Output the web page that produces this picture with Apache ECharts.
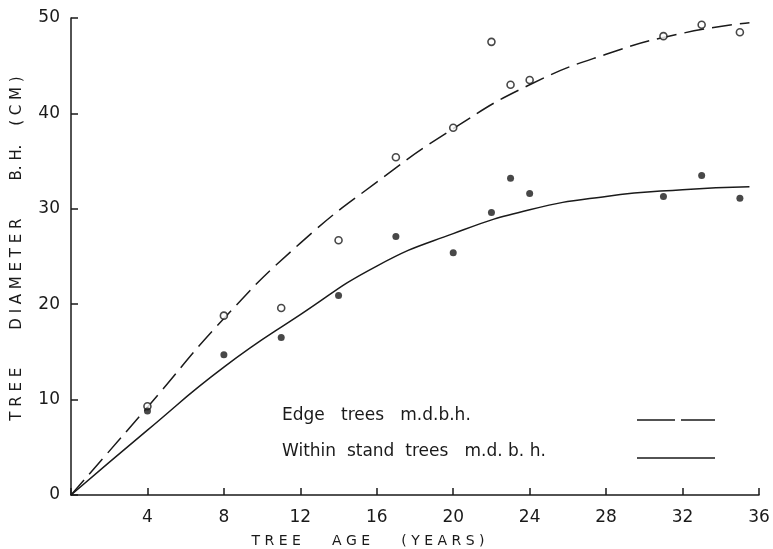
<!DOCTYPE html>
<html>
<head>
<meta charset="utf-8">
<script src="https://cdn.jsdelivr.net/npm/echarts@6/dist/echarts.min.js"></script>
<style>
  html, body { margin: 0; padding: 0; background: #fff; }
  #chart { width: 773px; height: 549px; }
</style>
</head>
<body>
<div id="chart"></div>
<script>
// observed points (age, diameter)
var edgeAges = [4, 8, 11, 14, 17, 20, 22, 23, 24, 31, 33, 35];
var edgeDiam = [9.3, 18.8, 19.6, 26.7, 35.4, 38.5, 47.5, 43.0, 43.5, 48.1, 49.3, 48.5];
var withinAges = [4, 8, 11, 14, 17, 20, 22, 23, 24, 31, 33, 35];
var withinDiam = [8.8, 14.7, 16.5, 20.9, 27.1, 25.4, 29.6, 33.2, 31.6, 31.3, 33.5, 31.1];

// fitted curves
var curveAges = [0, 4, 8, 12, 16, 20, 24, 28, 32, 35.5];
var edgeCurve = [0, 9.2, 18.5, 26.4, 32.8, 38.4, 43.0, 46.2, 48.4, 49.5];
var withinCurve = [0, 6.8, 13.4, 18.9, 24.0, 27.4, 29.9, 31.3, 32.0, 32.3];

var xTicks = [0, 4, 8, 12, 16, 20, 24, 28, 32, 36];
var yTicks = [0, 10, 20, 30, 40, 50];

var legendLabels = ['Edge   trees   m.d.b.h.', 'Within  stand  trees   m.d. b. h.'];

function pairs(xs, ys) {
    return xs.map(function (x, i) { return [x, ys[i]]; });
}

var ink = '#1a1a1a';
var font = 'DejaVu Sans';

var myChart = echarts.init(document.getElementById('chart'));
var option = {
    backgroundColor: '#fff',
    animation: false,
    grid: {
        left: 71,
        right: 14,
        top: 18,
        bottom: 54,
        outerBoundsMode: 'none'
    },
    xAxis: {
        type: 'value',
        min: xTicks[0],
        max: xTicks[xTicks.length - 1],
        interval: 4,
        name: 'T R E E       A G E       ( Y E A R S )',
        nameLocation: 'middle',
        nameGap: 39,
        nameTextStyle: {
            color: ink,
            fontFamily: font,
            fontSize: 14,
            padding: [0, 94, 0, 0]
        },
        splitLine: { show: false },
        axisLine: { lineStyle: { color: ink, width: 1.5 } },
        axisTick: { inside: true, length: 7, lineStyle: { color: ink, width: 1.5 } },
        axisLabel: {
            color: ink,
            fontFamily: font,
            fontSize: 17,
            margin: 14,
            formatter: function (v) { return v === 0 ? '' : v; }
        }
    },
    yAxis: {
        type: 'value',
        min: yTicks[0],
        max: yTicks[yTicks.length - 1],
        interval: 10,
        name: 'T R E E        D I A M E T E R        B. H.    ( C M )',
        nameLocation: 'middle',
        nameGap: 46,
        nameTextStyle: {
            color: ink,
            fontFamily: font,
            fontSize: 15,
            padding: [0, 0, 0, 16]
        },
        splitLine: { show: false },
        axisLine: { show: true, lineStyle: { color: ink, width: 1.5 } },
        axisTick: { show: true, inside: true, length: 7, lineStyle: { color: ink, width: 1.5 } },
        axisLabel: {
            color: ink,
            fontFamily: font,
            fontSize: 17,
            margin: 11
        }
    },
    graphic: [
        {
            type: 'text', left: 282, top: 407,
            style: { text: legendLabels[0], fill: ink, font: '17px "DejaVu Sans"' }
        },
        {
            type: 'text', left: 282, top: 443,
            style: { text: legendLabels[1], fill: ink, font: '17px "DejaVu Sans"' }
        },
        {
            type: 'line',
            shape: { x1: 637, y1: 420, x2: 715, y2: 420 },
            style: { stroke: ink, lineWidth: 1.5, lineDash: [38, 6] }
        },
        {
            type: 'line',
            shape: { x1: 637, y1: 458, x2: 715, y2: 458 },
            style: { stroke: ink, lineWidth: 1.5 }
        }
    ],
    series: [
        {
            name: 'Edge curve',
            type: 'line',
            smooth: true,
            showSymbol: false,
            data: pairs(curveAges, edgeCurve),
            lineStyle: { color: ink, width: 1.5, type: [20, 8] },
            z: 2
        },
        {
            name: 'Within curve',
            type: 'line',
            smooth: true,
            showSymbol: false,
            data: pairs(curveAges, withinCurve),
            lineStyle: { color: ink, width: 1.5 },
            z: 2
        },
        {
            name: 'Edge trees',
            type: 'scatter',
            symbol: 'circle',
            symbolSize: 7,
            data: pairs(edgeAges, edgeDiam),
            itemStyle: { color: '#fff', borderColor: ink, borderWidth: 1.6 },
            z: 3
        },
        {
            name: 'Within stand trees',
            type: 'scatter',
            symbol: 'circle',
            symbolSize: 7,
            data: pairs(withinAges, withinDiam),
            itemStyle: { color: ink },
            z: 3
        }
    ]
};
myChart.setOption(option);
</script>
</body>
</html>
